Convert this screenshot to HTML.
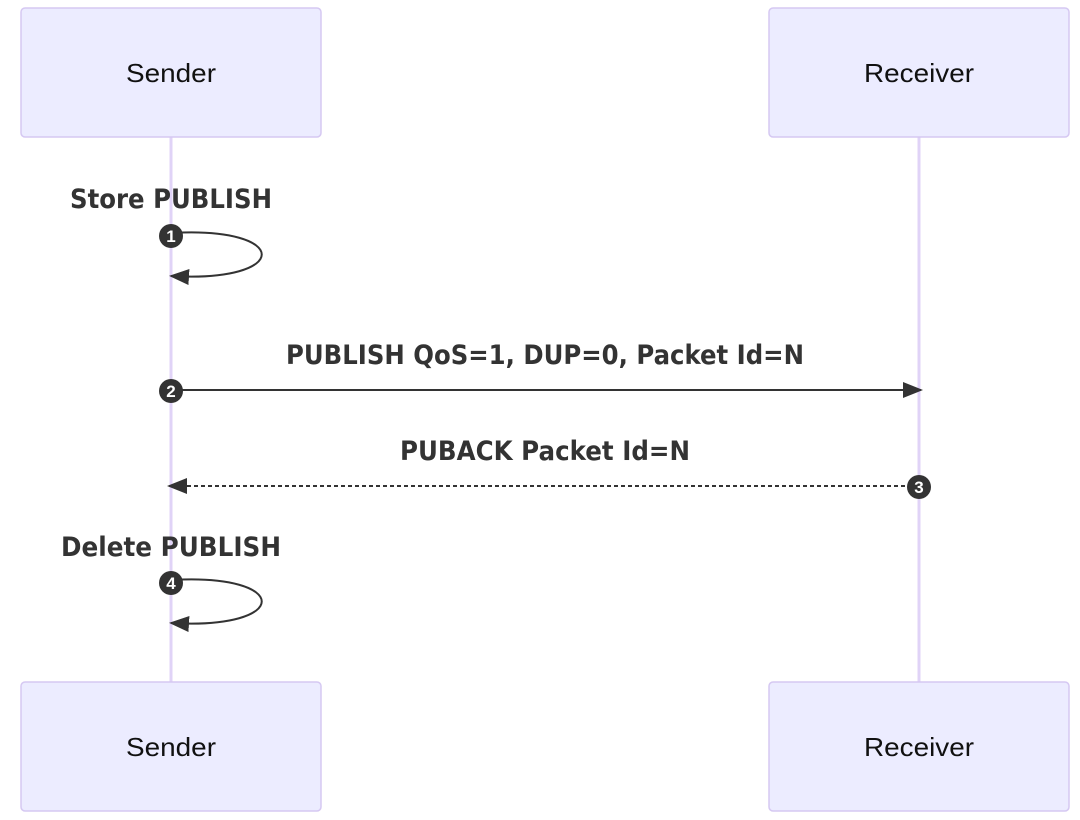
<!DOCTYPE html>
<html><head><style>
body{margin:0;background:#fff;}
svg{display:block}
.box{fill:#ececff;stroke:#d5c8f2;stroke-width:1.5}
.an{font-family:"Liberation Sans",sans-serif;font-size:26px;fill:#111}
.msg{font-family:"DejaVu Sans",sans-serif;font-weight:bold;font-size:27px;fill:#333}
.num{font-family:"Liberation Sans",sans-serif;font-weight:bold;font-size:17px;fill:#fff}
</style></head><body>
<svg width="1080" height="820" viewBox="0 0 1080 820">
<defs>
<marker id="ah" markerWidth="20" markerHeight="16" refX="18" refY="8" orient="auto" markerUnits="userSpaceOnUse">
<path d="M0,0 L20,8 L0,16 z" fill="#333"/>
</marker>
</defs>
<line x1="171" y1="137" x2="171" y2="682" stroke="#e0d3f7" stroke-width="3"/>
<line x1="919" y1="137" x2="919" y2="682" stroke="#e0d3f7" stroke-width="3"/>
<rect class="box" x="21" y="8" width="300" height="129" rx="4"/>
<rect class="box" x="769" y="8" width="300" height="129" rx="4"/>
<rect class="box" x="21" y="682" width="300" height="129" rx="4"/>
<rect class="box" x="769" y="682" width="300" height="129" rx="4"/>
<text class="an" x="171" y="82" text-anchor="middle" textLength="90" lengthAdjust="spacingAndGlyphs">Sender</text>
<text class="an" x="919" y="82" text-anchor="middle" textLength="110" lengthAdjust="spacingAndGlyphs">Receiver</text>
<text class="an" x="171" y="756" text-anchor="middle" textLength="90" lengthAdjust="spacingAndGlyphs">Sender</text>
<text class="an" x="919" y="756" text-anchor="middle" textLength="110" lengthAdjust="spacingAndGlyphs">Receiver</text>

<text class="msg" x="70" y="208" textLength="202" lengthAdjust="spacingAndGlyphs">Store PUBLISH</text>
<path d="M171,233 C292,226 292,283 171,276" fill="none" stroke="#333" stroke-width="2" marker-end="url(#ah)"/>
<circle cx="171" cy="236" r="12" fill="#333"/>
<text class="num" x="171" y="242" text-anchor="middle">1</text>

<text class="msg" x="286" y="364" textLength="518" lengthAdjust="spacingAndGlyphs">PUBLISH QoS=1, DUP=0, Packet Id=N</text>
<line x1="171" y1="390" x2="921" y2="390" stroke="#333" stroke-width="2" marker-end="url(#ah)"/>
<circle cx="171" cy="391" r="12" fill="#333"/>
<text class="num" x="171" y="397" text-anchor="middle">2</text>

<text class="msg" x="400" y="460" textLength="290" lengthAdjust="spacingAndGlyphs">PUBACK Packet Id=N</text>
<line x1="919" y1="486" x2="169" y2="486" stroke="#333" stroke-width="2" stroke-dasharray="4,3" marker-end="url(#ah)"/>
<circle cx="919" cy="487" r="12" fill="#333"/>
<text class="num" x="919" y="493" text-anchor="middle">3</text>

<text class="msg" x="61" y="556" textLength="220" lengthAdjust="spacingAndGlyphs">Delete PUBLISH</text>
<path d="M171,580 C292,573 292,630 171,623" fill="none" stroke="#333" stroke-width="2" marker-end="url(#ah)"/>
<circle cx="171" cy="583" r="12" fill="#333"/>
<text class="num" x="171" y="589" text-anchor="middle">4</text>
</svg>
</body></html>
